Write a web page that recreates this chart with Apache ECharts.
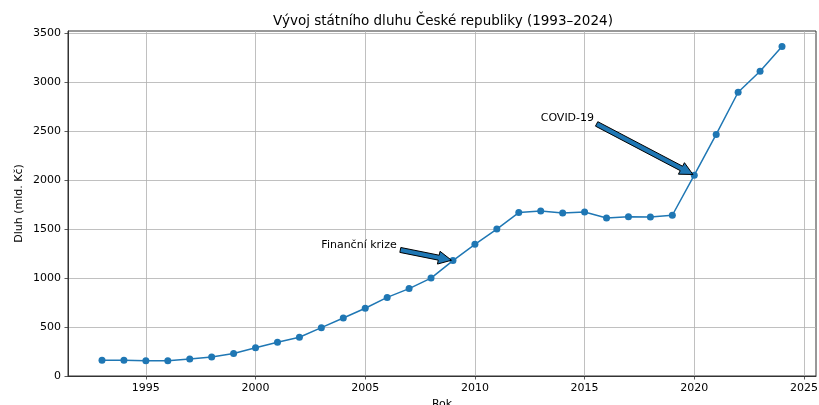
<!DOCTYPE html>
<html>
<head>
<meta charset="utf-8">
<script src="https://cdn.jsdelivr.net/npm/echarts@6/dist/echarts.min.js"></script>
<style>html,body{margin:0;padding:0;background:#fff}#c{width:819px;height:405px}</style>
</head>
<body>
<div id="c"></div>
<script>
const years = [1993,1994,1995,1996,1997,1998,1999,2000,2001,2002,2003,2004,2005,2006,2007,2008,2009,2010,2011,2012,2013,2014,2015,2016,2017,2018,2019,2020,2021,2022,2023,2024];
const debt = [160,160,155,155,173,195,229,288,345,395,493,592,691,802,892,999,1178,1344,1499,1667,1683,1663,1673,1613,1624,1622,1640,2049,2465,2895,3110,3362];
const xTicks = [1995,2000,2005,2010,2015,2020,2025];
const yTicks = [0,500,1000,1500,2000,2500,3000,3500];
// annotations: text, text position (data), arrow tail (data), arrow tip (data)
const annText = ['Finanční krize','COVID-19'];
const annTextPos = [[2003,1300],[2013,2600]];
const annTail = [[2006.6,1286],[2015.55,2572]];
const annTip = [[2009,1178],[2020,2049]];

const FONT = 'DejaVu Sans';
const chart = echarts.init(document.getElementById('c'), null, {renderer:'canvas'});
const axisCommon = {
  axisLine:{show:true,lineStyle:{color:'#333',width:1}},
  axisTick:{show:true,length:3.5,inside:false,lineStyle:{color:'#333',width:0.8}},
  splitLine:{show:true,lineStyle:{color:'#b0b0b0',width:0.8}},
  axisLabel:{color:'#000',fontFamily:FONT,fontSize:11},
  nameTextStyle:{color:'#000',fontFamily:FONT,fontSize:11}
};
chart.setOption({
  animation:false,
  backgroundColor:'#fff',
  title:{text:'Vývoj státního dluhu České republiky (1993–2024)',left:438,textAlign:'center',top:9,
    textStyle:{fontFamily:FONT,fontSize:13.5,fontWeight:'normal',color:'#000'}},
  grid:{left:68,right:3,top:31,bottom:29,show:true,borderColor:'#333',borderWidth:1,containLabel:false,outerBoundsMode:'none'},
  xAxis:Object.assign({},axisCommon,{
    type:'value',min:1991.45,max:2025.55,
    name:'Rok',nameLocation:'middle',nameGap:23,nameMoveOverlap:false,
    axisTick:Object.assign({},axisCommon.axisTick,{customValues:xTicks}),
    axisLabel:Object.assign({},axisCommon.axisLabel,{customValues:xTicks,margin:7,formatter:v=>String(v)})
  }),
  yAxis:Object.assign({},axisCommon,{
    type:'value',min:0,max:3520,
    name:'Dluh (mld. Kč)',nameLocation:'middle',nameGap:43,nameMoveOverlap:false,
    axisTick:Object.assign({},axisCommon.axisTick,{customValues:yTicks}),
    axisLabel:Object.assign({},axisCommon.axisLabel,{customValues:yTicks,margin:7,formatter:v=>String(v)})
  }),
  series:[{
    type:'line',
    data:years.map((y,i)=>[y,debt[i]]),
    symbol:'circle',symbolSize:7,
    lineStyle:{color:'#1f77b4',width:1.5},
    itemStyle:{color:'#1f77b4'},
    z:3
  }]
});

function arrowPoly(t, h){
  const dx=h[0]-t[0], dy=h[1]-t[1];
  const L=Math.sqrt(dx*dx+dy*dy);
  const ux=dx/L, uy=dy/L, nx=-uy, ny=ux;
  const w=2.5, hw=6.5, hl=13;
  const bx=h[0]-ux*hl, by=h[1]-uy*hl;
  return [
    [t[0]+nx*w,t[1]+ny*w],[bx+nx*w,by+ny*w],[bx+nx*hw,by+ny*hw],[h[0],h[1]],
    [bx-nx*hw,by-ny*hw],[bx-nx*w,by-ny*w],[t[0]-nx*w,t[1]-ny*w]
  ];
}
const gfx=[];
annText.forEach((txt,i)=>{
  const tp=chart.convertToPixel({gridIndex:0},annTextPos[i]);
  const ta=chart.convertToPixel({gridIndex:0},annTail[i]);
  const tip=chart.convertToPixel({gridIndex:0},annTip[i]);
  const dx=tip[0]-ta[0], dy=tip[1]-ta[1], L=Math.sqrt(dx*dx+dy*dy);
  const h=[tip[0]-dx/L*1.5, tip[1]-dy/L*1.5];
  gfx.push({type:'text',x:tp[0],y:tp[1]+2,z:50,style:{text:txt,fontFamily:FONT,fontSize:11,fill:'#000',textAlign:'left',textVerticalAlign:'bottom'}});
  gfx.push({type:'polygon',z:50,shape:{points:arrowPoly(ta,h)},style:{fill:'#1f77b4',stroke:'#000',lineWidth:1}});
});
chart.setOption({graphic:gfx});
</script>
</body>
</html>
